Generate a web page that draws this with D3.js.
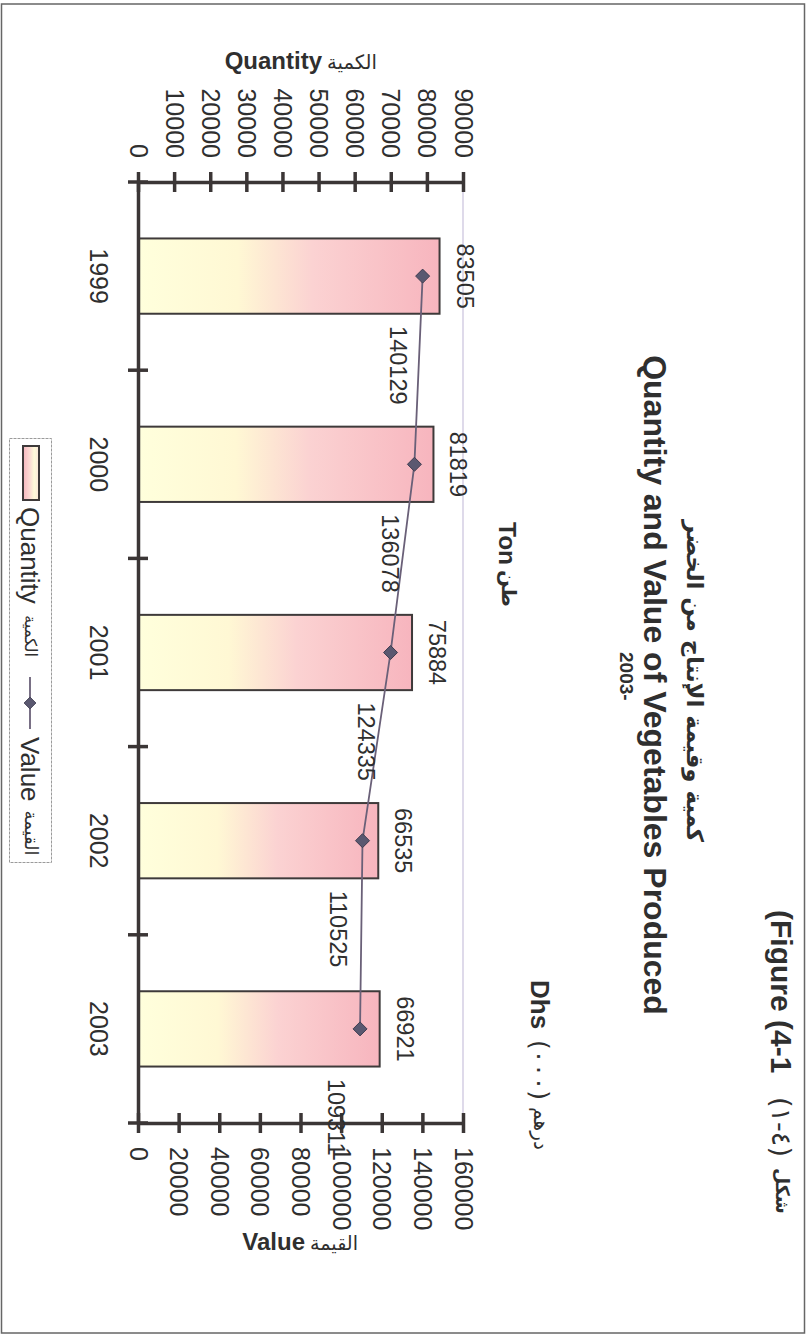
<!DOCTYPE html>
<html>
<head>
<meta charset="utf-8">
<script src="https://cdn.jsdelivr.net/npm/d3@7"></script>
<style>
html,body{margin:0;padding:0;background:#fff;}
svg{display:block;}
</style>
</head>
<body>
<script>
// ---------------- DATA ----------------
const years = ['1999', '2000', '2001', '2002', '2003'];
const quantity = [83505, 81819, 75884, 66535, 66921];      // Ton
const value = [140129, 136078, 124335, 110525, 109311];    // Dhs (000)
const quantityTicks = [0, 10000, 20000, 30000, 40000, 50000, 60000, 70000, 80000, 90000];
const valueTicks = [0, 20000, 40000, 60000, 80000, 100000, 120000, 140000, 160000];

// ---------------- TEXTS ----------------
const titleEn = 'Quantity and Value of Vegetables Produced';
const titleAr = 'كمية وقيمة الإنتاج من الخضر';
const titleYear = '2003-';
const figEn = '(Figure (4-1';
const figNum = '(\u0661\u200E-\u200E\u0664)';
const figAr = 'شكل';
const tonEn = 'Ton';
const tonAr = 'طن';
const dhsEn = 'Dhs';
const dhsNum = '(\u0660\u0660\u0660)';
const dhsAr = 'درهم';
const qAxisEn = 'Quantity';
const qAxisAr = 'الكمية';
const vAxisEn = 'Value';
const vAxisAr = 'القيمة';

// ---------------- SETUP ----------------
const W = 808, H = 1335;
const FONT = "'Liberation Sans', Arial, Helvetica, sans-serif";
const AR = "'DejaVu Sans', sans-serif";
const INK = '#2f2f2f';
const AXIS = '#3b3636';

const svg = d3.select('body').append('svg').attr('width', W).attr('height', H);
svg.append('rect').attr('width', W).attr('height', H).attr('fill', '#fff');

// page frame
svg.append('rect').attr('x', 1.5).attr('y', 4).attr('width', 803).attr('height', 1329)
  .attr('fill', 'none').attr('stroke', '#666').attr('stroke-width', 1.5);

const plot = { left: 138, right: 463, top: 182, bottom: 1123 };
const xQ = d3.scaleLinear().domain([0, 90000]).range([plot.left, plot.right]);
const xV = d3.scaleLinear().domain([0, 160000]).range([plot.left, plot.right]);
const yB = d3.scaleBand().domain(years).range([plot.top, plot.bottom]).padding(0);

const defs = svg.append('defs');
const g1 = defs.append('linearGradient').attr('id', 'barGrad')
  .attr('x1', '0%').attr('x2', '100%').attr('y1', '0%').attr('y2', '0%');
[[0, '#FFFFDC'], [0.33, '#FFF8D4'], [0.58, '#FBD2D2'], [1, '#F7B5BE']].forEach(s =>
  g1.append('stop').attr('offset', s[0]).attr('stop-color', s[1]));
const g2 = defs.append('linearGradient').attr('id', 'swGrad')
  .attr('x1', '0%').attr('x2', '100%').attr('y1', '0%').attr('y2', '0%');
[[0, '#F6B6BF'], [0.45, '#FCDCD4'], [0.7, '#FFFBDA'], [1, '#FDE6DA']].forEach(s =>
  g2.append('stop').attr('offset', s[0]).attr('stop-color', s[1]));

function fit(t, target) {
  const L = t.node().getComputedTextLength();
  const fs = parseFloat(t.attr('font-size'));
  if (L > 0) t.attr('font-size', fs * target / L);
  return t;
}
// vertical text reading top -> bottom; x = cross-centre, y = anchor position along reading direction
function vtext(x, y, str, o = {}) {
  const t = svg.append('text')
    .attr('transform', `translate(${x},${y}) rotate(90)`)
    .attr('text-anchor', o.anchor || 'start')
    .attr('dy', o.dy || '0.36em')
    .attr('font-family', o.family || FONT)
    .attr('font-size', o.size || 25)
    .attr('font-weight', o.weight || 'normal')
    .attr('fill', o.fill || INK)
    .text(str);
  if (o.fit) fit(t, o.fit);
  return t;
}

// ---------------- BARS ----------------
const bw = yB.bandwidth();
svg.selectAll('rect.bar').data(years).join('rect').attr('class', 'bar')
  .attr('x', xQ(0))
  .attr('y', d => yB(d) + bw * 0.3)
  .attr('width', (d, i) => xQ(quantity[i]) - xQ(0))
  .attr('height', bw * 0.4)
  .attr('fill', 'url(#barGrad)')
  .attr('stroke', '#3e3a3a').attr('stroke-width', 2);

// plot-area far border
svg.append('line').attr('x1', plot.right).attr('x2', plot.right)
  .attr('y1', plot.top).attr('y2', plot.bottom)
  .attr('stroke', '#c9c2dc').attr('stroke-width', 1.2);

// ---------------- AXES ----------------
const axQ = svg.append('g').attr('transform', `translate(0,${plot.top})`)
  .call(d3.axisTop(xQ).tickValues(quantityTicks).tickSize(10).tickSizeOuter(0).tickFormat(d3.format('d')));
axQ.select('.domain').attr('stroke', AXIS).attr('stroke-width', 3.5);
axQ.selectAll('.tick line').attr('y1', 10).attr('y2', -10).attr('stroke', AXIS).attr('stroke-width', 3.5);
axQ.selectAll('.tick text').attr('x', 0).attr('y', 0).attr('dy', '0.36em')
  .attr('transform', 'translate(0,-24) rotate(90)').attr('text-anchor', 'end')
  .attr('font-size', 25).attr('font-family', FONT).attr('fill', INK);

const axV = svg.append('g').attr('transform', `translate(0,${plot.bottom})`)
  .call(d3.axisBottom(xV).tickValues(valueTicks).tickSize(10).tickSizeOuter(0).tickFormat(d3.format('d')));
axV.select('.domain').attr('stroke', AXIS).attr('stroke-width', 3.5);
axV.selectAll('.tick line').attr('y1', -10).attr('y2', 10).attr('stroke', AXIS).attr('stroke-width', 3.5);
axV.selectAll('.tick text').attr('x', 0).attr('y', 0).attr('dy', '0.36em')
  .attr('transform', 'translate(0,24) rotate(90)').attr('text-anchor', 'start')
  .attr('font-size', 25).attr('font-family', FONT).attr('fill', INK);

const axC = svg.append('g').attr('transform', `translate(${plot.left},0)`)
  .call(d3.axisLeft(yB).tickSize(0).tickSizeOuter(0));
axC.select('.domain').attr('stroke', AXIS).attr('stroke-width', 3.5);
axC.selectAll('.tick text').attr('x', 0).attr('y', 0).attr('dy', '0.36em')
  .attr('transform', 'translate(-39,0) rotate(90)').attr('text-anchor', 'middle')
  .attr('font-size', 25).attr('font-family', FONT).attr('fill', INK);
const bounds = years.map(d => yB(d)).concat([yB.range()[1]]);
axC.selectAll('line.btick').data(bounds).join('line').attr('class', 'btick')
  .attr('x1', -10).attr('x2', 10).attr('y1', d => d).attr('y2', d => d)
  .attr('stroke', AXIS).attr('stroke-width', 3.5);

// ---------------- LINE + MARKERS ----------------
const pts = years.map((y, i) => [xV(value[i]), yB(y) + bw / 2]);
svg.append('path').attr('d', d3.line()(pts)).attr('fill', 'none')
  .attr('stroke', '#6a6078').attr('stroke-width', 1.8);
const diamond = 'M0,-7L7,0L0,7L-7,0Z';
svg.selectAll('path.mk').data(pts).join('path').attr('class', 'mk')
  .attr('d', diamond).attr('transform', d => `translate(${d[0]},${d[1]})`)
  .attr('fill', '#5a5870').attr('stroke', '#3f3d50').attr('stroke-width', 1);

// ---------------- DATA LABELS ----------------
years.forEach((y, i) => {
  vtext(xQ(quantity[i]) + 25.5, yB(y) + bw / 2, String(quantity[i]), { anchor: 'middle', size: 23.5 });
  vtext(xV(value[i]) - 24, yB(y) + bw / 2 + 50, String(value[i]), { anchor: 'start', size: 23.5 });
});

// ---------------- AXIS TITLES ----------------
svg.append('text').attr('x', 322).attr('y', 69).attr('text-anchor', 'end')
  .attr('font-family', FONT).attr('font-weight', 'bold').attr('font-size', 24).attr('fill', INK).text(qAxisEn);
fit(svg.append('text').attr('x', 327).attr('y', 69).attr('text-anchor', 'start')
  .attr('font-family', AR).attr('font-size', 20).attr('fill', INK).text(qAxisAr), 50);
svg.append('text').attr('x', 305).attr('y', 1250).attr('text-anchor', 'end')
  .attr('font-family', FONT).attr('font-weight', 'bold').attr('font-size', 24).attr('fill', INK).text(vAxisEn);
fit(svg.append('text').attr('x', 310).attr('y', 1250).attr('text-anchor', 'start')
  .attr('font-family', AR).attr('font-size', 20).attr('fill', INK).text(vAxisAr), 48);

// ---------------- TITLES ----------------
vtext(656, 685, titleEn, { anchor: 'middle', size: 32, weight: 'bold' });
vtext(694, 681, titleAr, { anchor: 'middle', size: 24, weight: 'bold', family: AR, fit: 322, dy: '0.3em' });
vtext(627, 652, titleYear, { anchor: 'start', size: 19, weight: 'bold' });

vtext(781.5, 910, figEn, { anchor: 'start', size: 30, weight: 'bold' });
vtext(781.5, 1097, figNum, { anchor: 'start', size: 30, family: AR, fit: 60 });
vtext(781.5, 1168, figAr, { anchor: 'start', size: 30, weight: 'bold', family: AR, fit: 46, dy: '0.3em' });

vtext(508, 522, tonEn, { anchor: 'start', size: 24.5, weight: 'bold' });
vtext(508, 570, tonAr, { anchor: 'start', size: 22, weight: 'bold', family: AR, fit: 37, dy: '0.3em' });

vtext(540, 980, dhsEn, { anchor: 'start', size: 26, weight: 'bold' });
vtext(540, 1040, dhsNum, { anchor: 'start', size: 26, family: AR, fit: 60 });
vtext(540, 1107, dhsAr, { anchor: 'start', size: 20, family: AR, fit: 43, dy: '0.3em' });

// ---------------- LEGEND ----------------
svg.append('rect').attr('x', 9.5).attr('y', 438.5).attr('width', 42).attr('height', 424)
  .attr('fill', '#fff').attr('stroke', '#9a9a9a').attr('stroke-width', 1).attr('stroke-dasharray', '3,1');
svg.append('rect').attr('x', 23).attr('y', 446).attr('width', 16).attr('height', 54)
  .attr('fill', 'url(#swGrad)').attr('stroke', '#3e3a3a').attr('stroke-width', 2);
vtext(30, 507, 'Quantity', { anchor: 'start', size: 26 });
vtext(30, 615, qAxisAr, { anchor: 'start', size: 18, family: AR, fit: 42, dy: '0.3em' });
svg.append('line').attr('x1', 30).attr('x2', 30).attr('y1', 677).attr('y2', 729)
  .attr('stroke', '#6a6078').attr('stroke-width', 1.8);
svg.append('path').attr('d', diamond).attr('transform', 'translate(30,703) scale(0.85)')
  .attr('fill', '#5a5870').attr('stroke', '#3f3d50').attr('stroke-width', 1);
const vt = vtext(30, 737, 'Value', { anchor: 'start', size: 26 });
const vLen = vt.node().getComputedTextLength();
vtext(30, 737 + vLen + 9, vAxisAr, { anchor: 'start', size: 18, family: AR, fit: 45, dy: '0.3em' });
</script>
</body>
</html>
